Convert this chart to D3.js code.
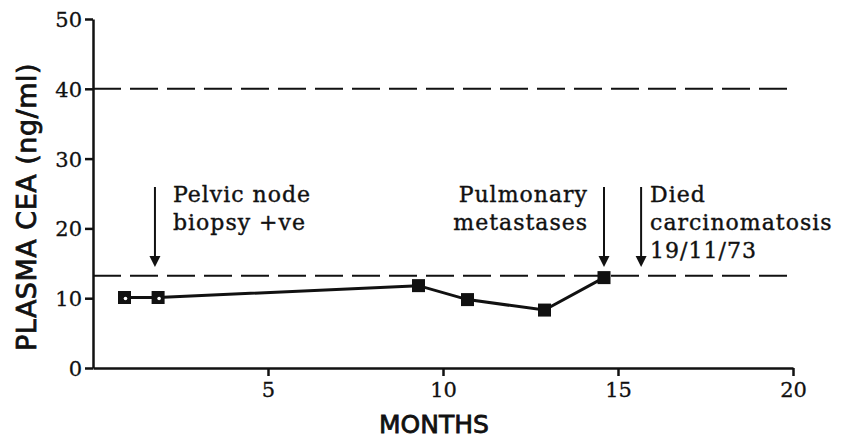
<!DOCTYPE html>
<html lang="en">
<head>
<meta charset="UTF-8">
<script src="https://d3js.org/d3.v7.min.js"></script>
<style>
  body { margin: 0; background: white; }
  .tick text { font-family: "DejaVu Serif", serif; font-size: 21px; fill: #111; stroke: #111; stroke-width: 0.3px; }
</style>
</head>
<body>
<script>
    const w = 848;
    const h = 440;

    // data
    const months = [0.9, 1.86, 9.3, 10.7, 12.9, 14.6];
    const cea = [10.1, 10.1, 11.8, 9.8, 8.3, 12.95];
    const openMarker = [true, true, false, false, false, false];
    const refLevels = [40, 13.2];
    const xTicks = [5, 10, 15, 20];
    const yTicks = [0, 10, 20, 30, 40, 50];

    const noteMonths = [1.77, 14.6, 15.66];
    const noteLines = [
        ["Pelvic node", "biopsy +ve"],
        ["Pulmonary", "metastases"],
        ["Died", "carcinomatosis", "19/11/73"]
    ];

    const xScale = d3.scaleLinear().domain([0, 20]).range([93, 793]);
    const yScale = d3.scaleLinear().domain([0, 50]).range([368, 19]);

    const svg = d3.select("body")
        .append("svg")
        .attr("width", w)
        .attr("height", h)
        .style("background-color", "white");

    // reference dashed lines
    svg.selectAll("line.ref")
        .data(refLevels)
        .enter()
        .append("line")
        .attr("class", "ref")
        .attr("x1", xScale(0))
        .attr("x2", xScale(20))
        .attr("y1", d => yScale(d))
        .attr("y2", d => yScale(d))
        .style("stroke", "#111")
        .style("stroke-width", 2)
        .style("stroke-dasharray", "28,9");

    // axes
    const xAxis = d3.axisBottom(xScale).tickValues(xTicks).tickSize(8).tickSizeOuter(0).tickPadding(6);
    const yAxis = d3.axisLeft(yScale).tickValues(yTicks).tickSize(8).tickSizeOuter(0).tickPadding(3);

    const gx = svg.append("g")
        .attr("transform", "translate(0," + yScale(0) + ")")
        .call(xAxis);
    const gy = svg.append("g")
        .attr("transform", "translate(" + xScale(0) + ",0)")
        .call(yAxis);

    [gx, gy].forEach(g => {
        g.select(".domain").style("stroke", "#111").style("stroke-width", 2.5);
        g.selectAll(".tick line").style("stroke", "#111").style("stroke-width", 2.5);
    });
    gy.selectAll(".tick text").attr("dy", "0.36em");

    // axis titles
    svg.append("text")
        .attr("transform", "translate(36," + 207 + ") rotate(-90)")
        .attr("text-anchor", "middle")
        .style("font-family", "DejaVu Sans, sans-serif")
        .style("font-size", "27px")
        .style("letter-spacing", "0.5px")
        .style("fill", "#111")
        .style("stroke", "#111")
        .style("stroke-width", 0.8)
        .text("PLASMA CEA (ng/ml)");

    svg.append("text")
        .attr("x", 434)
        .attr("y", 433)
        .attr("text-anchor", "middle")
        .style("font-family", "DejaVu Sans, sans-serif")
        .style("font-size", "25px")
        .style("fill", "#111")
        .style("stroke", "#111")
        .style("stroke-width", 0.8)
        .text("MONTHS");

    // data line
    const pts = months.map((m, i) => ({ m: m, v: cea[i], open: openMarker[i] }));

    svg.append("path")
        .datum(pts)
        .attr("d", d3.line().x(d => xScale(d.m)).y(d => yScale(d.v)))
        .style("fill", "none")
        .style("stroke", "#111")
        .style("stroke-width", 3);

    const s = 13;
    svg.selectAll("rect.pt")
        .data(pts)
        .enter()
        .append("rect")
        .attr("class", "pt")
        .attr("x", d => xScale(d.m) - s / 2)
        .attr("y", d => yScale(d.v) - s / 2)
        .attr("width", s)
        .attr("height", s)
        .style("fill", "#111");

    svg.selectAll("circle.pt")
        .data(pts.filter(d => d.open))
        .enter()
        .append("circle")
        .attr("class", "pt")
        .attr("cx", d => xScale(d.m) + 1)
        .attr("cy", d => yScale(d.v) + 1)
        .attr("r", 1.8)
        .style("fill", "white");

    // annotation arrows
    const arrowTop = 187;
    const arrowTip = 267;
    noteMonths.forEach((m, i) => {
        const x = xScale(m);
        svg.append("line")
            .attr("x1", x).attr("x2", x)
            .attr("y1", arrowTop).attr("y2", arrowTip - 8)
            .style("stroke", "#111")
            .style("stroke-width", 2);
        svg.append("path")
            .attr("d", "M" + (x - 5.5) + "," + (arrowTip - 11) + "L" + (x + 5.5) + "," + (arrowTip - 11) + "L" + x + "," + arrowTip + "Z")
            .style("fill", "#111");
    });

    // annotation texts
    const noteX = [xScale(noteMonths[0]) + 18, xScale(noteMonths[1]) - 16, xScale(noteMonths[2]) + 9];
    const noteAnchor = ["start", "end", "start"];
    noteLines.forEach((lines, i) => {
        const t = svg.append("text")
            .attr("text-anchor", noteAnchor[i])
            .style("font-family", "DejaVu Serif, serif")
            .style("font-size", "22px")
            .style("letter-spacing", "1px")
            .style("fill", "#111")
            .style("stroke", "#111")
            .style("stroke-width", 0.4);
        lines.forEach((line, j) => {
            t.append("tspan")
                .attr("x", noteX[i])
                .attr("y", 202 + j * 28)
                .text(line);
        });
    });
</script>
</body>
</html>
